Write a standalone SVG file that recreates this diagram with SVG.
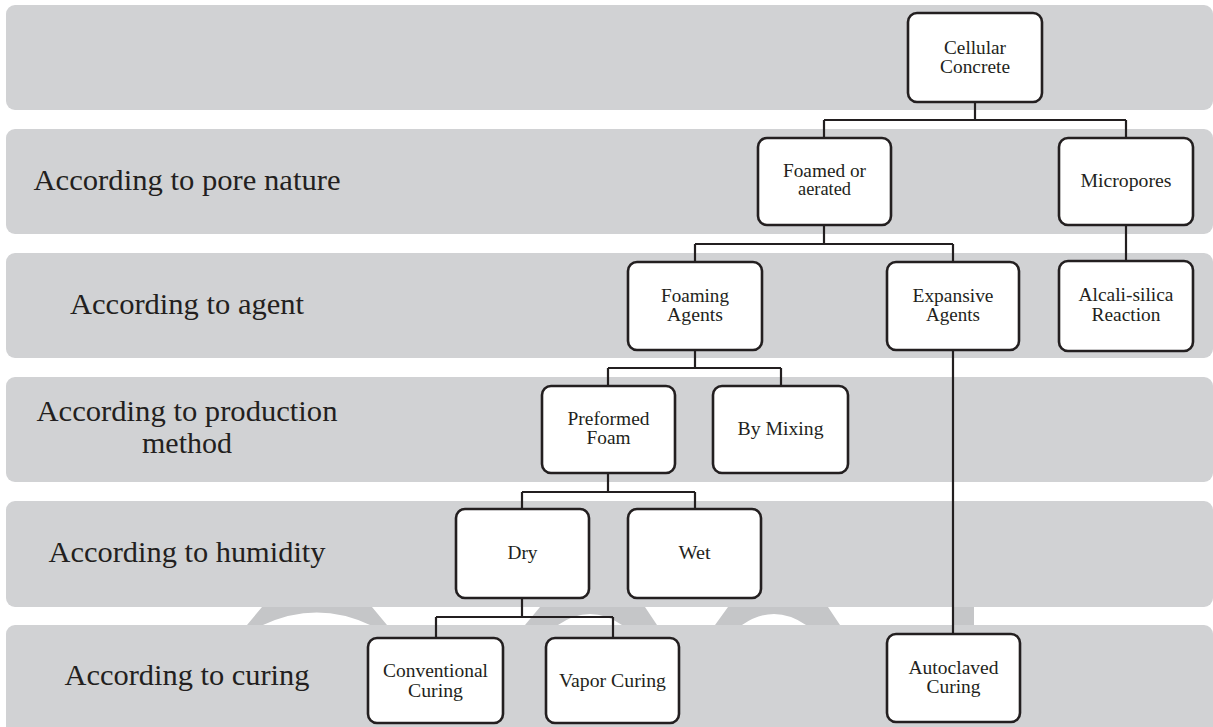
<svg xmlns="http://www.w3.org/2000/svg" width="1213" height="727" viewBox="0 0 1213 727">
<style>
.band{fill:#d1d2d4}
.wm{fill:#c5c6c8;fill-rule:evenodd}
.box{fill:#fff;stroke:#231f20;stroke-width:2.6}
.lbl{font-family:"Liberation Serif","Times New Roman",serif;font-size:29px;fill:#231f20;text-anchor:middle}
.nt{font-family:"Liberation Serif","Times New Roman",serif;font-size:18px;fill:#231f20;text-anchor:middle}
.con{fill:none;stroke:#231f20;stroke-width:2.2}
</style>
<rect width="1213" height="727" fill="#fff"/>
<g id="watermark">
<path class="wm" d="M247 625 L262 607 L372 607 L387 625 Z M263 625 Q317 600 370 625 Z"/>
<path class="wm" d="M525 625 L540 607 L645 607 L657 625 Z M558 625 Q590 603 622 625 Z"/>
<path class="wm" d="M715 625 L728 607 L828 607 L840 625 Z M742 625 Q774 603 806 625 Z"/>
<rect class="wm" x="953" y="607" width="21" height="18"/>
</g>
<g id="bands">
<rect class="band" x="6" y="5" width="1207" height="105" rx="9"/>
<rect class="band" x="6" y="129" width="1207" height="105" rx="9"/>
<rect class="band" x="6" y="253" width="1207" height="105" rx="9"/>
<rect class="band" x="6" y="377" width="1207" height="105" rx="9"/>
<rect class="band" x="6" y="501" width="1207" height="106" rx="9"/>
<rect class="band" x="6" y="625" width="1207" height="112" rx="9"/>
</g>
<g id="labels">
<text class="lbl" x="187" y="190" textLength="307" lengthAdjust="spacingAndGlyphs">According to pore nature</text>
<text class="lbl" x="187" y="314" textLength="234" lengthAdjust="spacingAndGlyphs">According to agent</text>
<text class="lbl" x="187" y="421" textLength="301" lengthAdjust="spacingAndGlyphs">According to production</text>
<text class="lbl" x="187" y="453" textLength="90" lengthAdjust="spacingAndGlyphs">method</text>
<text class="lbl" x="187" y="562" textLength="277" lengthAdjust="spacingAndGlyphs">According to humidity</text>
<text class="lbl" x="187" y="685" textLength="245" lengthAdjust="spacingAndGlyphs">According to curing</text>
</g>
<g id="connectors">
<path class="con" d="M975 102 V120 M824 120 H1126 M824 120 V138 M1126 120 V138"/>
<path class="con" d="M824 225 V244 M695 244 H953 M695 244 V262 M953 244 V262"/>
<path class="con" d="M1126 225 V261"/>
<path class="con" d="M695 350 V368 M608 368 H781 M608 368 V386 M781 368 V386"/>
<path class="con" d="M953 350 V634"/>
<path class="con" d="M608 473 V492 M522 492 H695 M522 492 V509 M695 492 V509"/>
<path class="con" d="M522 598 V617 M436 617 H613 M436 617 V638 M613 617 V638"/>
</g>
<g id="n-cellular">
<rect class="box" x="908" y="13" width="134" height="89" rx="9"/>
<text class="nt" x="975" y="54" textLength="62" lengthAdjust="spacingAndGlyphs">Cellular</text>
<text class="nt" x="975" y="73" textLength="70" lengthAdjust="spacingAndGlyphs">Concrete</text>
</g>
<g id="n-foamed">
<rect class="box" x="758" y="138" width="133" height="87" rx="9"/>
<text class="nt" x="824.5" y="177" textLength="83" lengthAdjust="spacingAndGlyphs">Foamed or</text>
<text class="nt" x="824.5" y="195" textLength="53" lengthAdjust="spacingAndGlyphs">aerated</text>
</g>
<g id="n-micropores">
<rect class="box" x="1059" y="138" width="134" height="87" rx="9"/>
<text class="nt" x="1126" y="187" textLength="91" lengthAdjust="spacingAndGlyphs">Micropores</text>
</g>
<g id="n-foaming">
<rect class="box" x="628" y="262" width="134" height="88" rx="9"/>
<text class="nt" x="695" y="302" textLength="68" lengthAdjust="spacingAndGlyphs">Foaming</text>
<text class="nt" x="695" y="321" textLength="56" lengthAdjust="spacingAndGlyphs">Agents</text>
</g>
<g id="n-expansive">
<rect class="box" x="887" y="262" width="132" height="88" rx="9"/>
<text class="nt" x="953" y="302" textLength="81" lengthAdjust="spacingAndGlyphs">Expansive</text>
<text class="nt" x="953" y="321" textLength="54" lengthAdjust="spacingAndGlyphs">Agents</text>
</g>
<g id="n-alcali">
<rect class="box" x="1059" y="261" width="134" height="90" rx="9"/>
<text class="nt" x="1126" y="301" textLength="95" lengthAdjust="spacingAndGlyphs">Alcali-silica</text>
<text class="nt" x="1126" y="321" textLength="69" lengthAdjust="spacingAndGlyphs">Reaction</text>
</g>
<g id="n-preformed">
<rect class="box" x="542" y="386" width="133" height="87" rx="9"/>
<text class="nt" x="608.5" y="425" textLength="82" lengthAdjust="spacingAndGlyphs">Preformed</text>
<text class="nt" x="608.5" y="444" textLength="44" lengthAdjust="spacingAndGlyphs">Foam</text>
</g>
<g id="n-mixing">
<rect class="box" x="713" y="386" width="135" height="87" rx="9"/>
<text class="nt" x="780.5" y="435" textLength="86" lengthAdjust="spacingAndGlyphs">By Mixing</text>
</g>
<g id="n-dry">
<rect class="box" x="456" y="509" width="133" height="89" rx="9"/>
<text class="nt" x="522.5" y="559" textLength="30" lengthAdjust="spacingAndGlyphs">Dry</text>
</g>
<g id="n-wet">
<rect class="box" x="628" y="509" width="133" height="89" rx="9"/>
<text class="nt" x="694.5" y="559" textLength="32" lengthAdjust="spacingAndGlyphs">Wet</text>
</g>
<g id="n-conventional">
<rect class="box" x="368" y="638" width="135" height="85" rx="9"/>
<text class="nt" x="435.5" y="677" textLength="105" lengthAdjust="spacingAndGlyphs">Conventional</text>
<text class="nt" x="435.5" y="697" textLength="55" lengthAdjust="spacingAndGlyphs">Curing</text>
</g>
<g id="n-vapor">
<rect class="box" x="546" y="638" width="133" height="85" rx="9"/>
<text class="nt" x="612.5" y="687" textLength="107" lengthAdjust="spacingAndGlyphs">Vapor Curing</text>
</g>
<g id="n-autoclaved">
<rect class="box" x="887" y="634" width="133" height="88" rx="9"/>
<text class="nt" x="953.5" y="674" textLength="90" lengthAdjust="spacingAndGlyphs">Autoclaved</text>
<text class="nt" x="953.5" y="693" textLength="54" lengthAdjust="spacingAndGlyphs">Curing</text>
</g>
</svg>
